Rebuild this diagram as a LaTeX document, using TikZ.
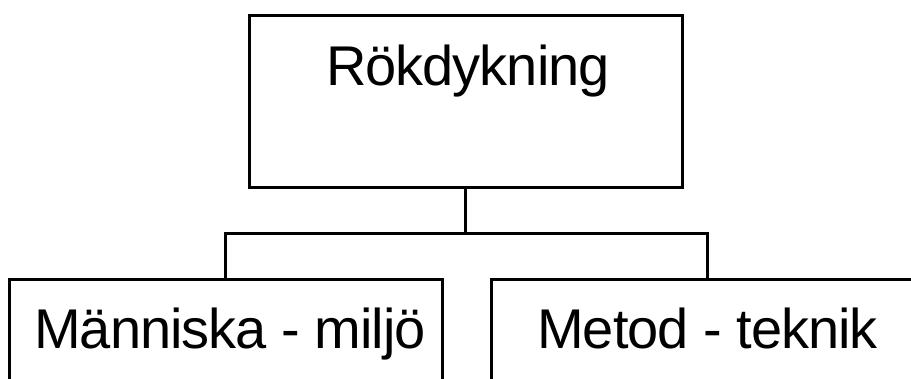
\documentclass[tikz,border=0pt]{standalone}
\usepackage{fontspec}
\setmainfont{Liberation Sans}[LetterSpace=-1.8]
\begin{document}
\begin{tikzpicture}[x=1pt,y=-1pt,
  box/.style={draw=black,line width=3pt,rectangle,inner sep=0pt},
  link/.style={draw=black,line width=3pt},
  caption/.style={anchor=base,inner sep=0pt,font=\fontsize{56}{60}\selectfont}]
  \useasboundingbox (0,0) rectangle (911,378);
  \clip (0,0) rectangle (911,378);
  % boxes
  \node[box,minimum width=433pt,minimum height=172pt] (top) at (465.5,101) {};
  \node[box,minimum width=433pt,minimum height=142pt] (left) at (225.5,350) {};
  \node[box,minimum width=432pt,minimum height=142pt] (right) at (707,350) {};
  % labels
  \node[caption] (toptext) at (468,85) {Rökdykning};
  \node[caption] (lefttext) at (230,348) {Människa - miljö};
  \node[caption] (righttext) at (707.5,348) {Metod - teknik};
  % tree connectors
  \coordinate (bus) at (top.south |- 0,233);
  \draw[link] (top.south) -- (bus);
  \draw[link] (left.north) |- (bus) -| (right.north);
\end{tikzpicture}
\end{document}
